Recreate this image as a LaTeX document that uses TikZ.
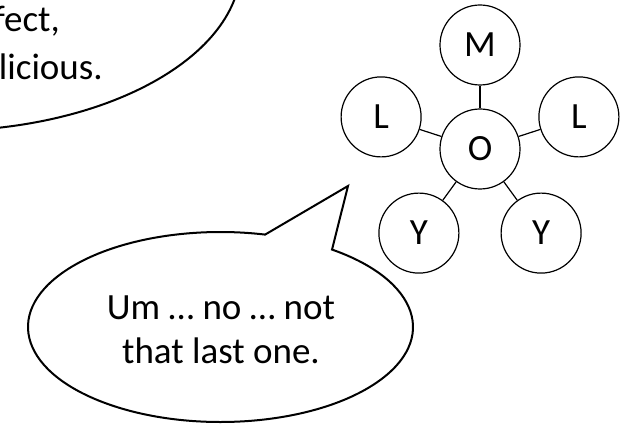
\documentclass[tikz,border=0pt]{standalone}
\usepackage{fontspec}
\setmainfont{Carlito}
\begin{document}
\begin{tikzpicture}[x=1pt,y=1pt,
  bubble/.style={line width=2pt, draw=black, fill=white},
  atom/.style={circle, draw=black, line width=1.2pt, minimum size=80pt, inner sep=0pt, fill=white, font=\fontsize{37}{44}\selectfont},
  bond/.style={line width=1.2pt, draw=black},
  say/.style={font=\fontsize{37}{44}\selectfont, inner sep=0pt, anchor=base}]
\useasboundingbox (0,0) rectangle (628,426);
\clip (0,0) rectangle (628,426);
\fill[white] (0,0) rectangle (628,426);
% upper speech bubble (mostly outside the frame)
\draw[bubble] (-61,461) ellipse [x radius=302, y radius=166];
\node[say, anchor=base east] (p1) at (60,394) {fect,};
\node[say, anchor=base east] (p2) at (103,346) {licious.};
% lower speech bubble
\draw[bubble] (220.5,99) ++(54.6:192.5 and 95)
  arc[start angle=54.6, end angle=-283.4, x radius=192.5, y radius=95]
  -- (348,240) -- cycle;
\node[say] (u1) at (221,107) {Um … no … not};
\node[say] (u2) at (221,63) {that last one.};
% molecule
\node[atom] (o) at (480,277) {O};
\node[atom] (m) at (480,381) {M};
\node[atom] (lr) at (578.9,309.1) {L};
\node[atom] (ll) at (381.1,309.1) {L};
\node[atom] (yr) at (541.1,192.9) {Y};
\node[atom] (yl) at (418.9,192.9) {Y};
\draw[bond] (o) -- (m);
\draw[bond] (o) -- (lr);
\draw[bond] (o) -- (ll);
\draw[bond] (o) -- (yr);
\draw[bond] (o) -- (yl);
\end{tikzpicture}
\end{document}
